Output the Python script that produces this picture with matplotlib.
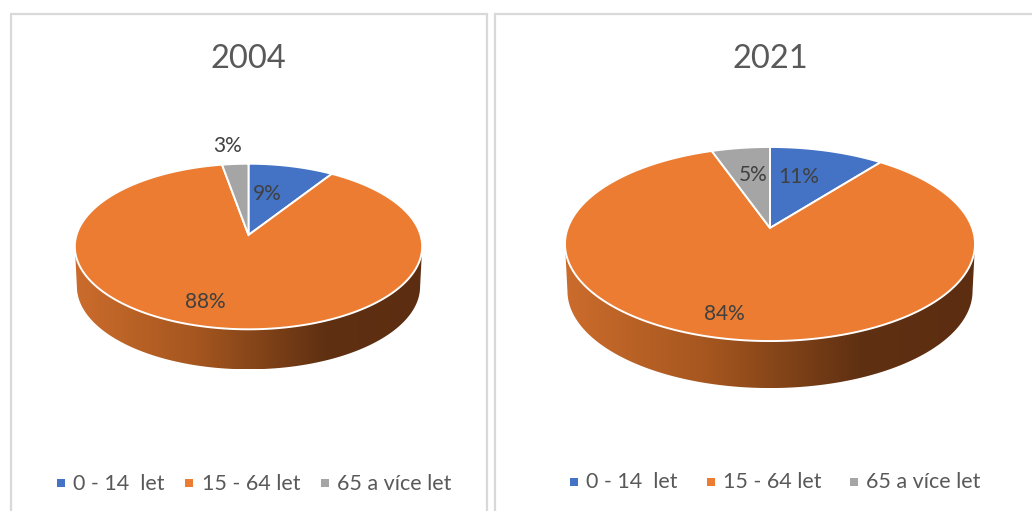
import numpy as np
import matplotlib
matplotlib.use('Agg')
import matplotlib.pyplot as plt
from matplotlib.colors import LinearSegmentedColormap
from matplotlib.patches import Polygon, Rectangle

plt.rcParams['font.family'] = ['Lato', 'DejaVu Sans']

categories = ['0 - 14  let', '15 - 64 let', '65 a více let']
colors = ['#4472C4', '#EB7C31', '#A5A5A5']
titles = ['2004', '2021']
values_2004 = [9.1, 88.1, 2.8]
values_2021 = [10.6, 84.0, 5.4]

wall_cmap = LinearSegmentedColormap.from_list(
    'wall', [(0, '#CB6C2C'), (0.35, '#A5561F'), (0.72, '#5F3012'), (1, '#5C2D10')])
TEXT = '#404040'


# tilted disc: unit circle through a simple perspective, centre lands on apex
def project(theta, geo):
    u, v = np.sin(theta), np.cos(theta)
    w = 1 + geo['k'] * v
    return geo['cx'] + geo['c'] * u / w, geo['cy'] - geo['b'] * v / w


def draw_pie(ax, values, title, geo):
    t = np.linspace(0, 2 * np.pi, 721)
    x, y = project(t, geo)

    # side wall between the rim and the same rim pushed down
    left, right = np.argmin(x), np.argmax(x)
    front = np.arange(right, left + 1)
    bx = geo['cx'] + (x[front] - geo['cx']) * 0.988
    by = y[front] + geo['depth']
    wall = Polygon(np.r_[np.c_[x[front], y[front]], np.c_[bx, by][::-1]],
                   closed=True, fc='none', ec='none', transform=ax.transData)
    ax.add_patch(wall)
    grad = np.linspace(0, 1, 256).reshape(1, -1)
    im = ax.imshow(grad, cmap=wall_cmap, aspect='auto', zorder=2,
                   extent=(x.min(), x.max(), by.max(), y.min()))
    im.set_clip_path(wall)

    # slices clockwise from 12 o'clock
    edges = np.r_[0, np.cumsum(values)] / np.sum(values) * 2 * np.pi
    for i, val in enumerate(values):
        a = np.linspace(edges[i], edges[i + 1], 200)
        px, py = project(a, geo)
        pts = np.r_[[[geo['cx'], geo['cy']]], np.c_[px, py]]
        ax.add_patch(Polygon(pts, closed=True, fc=colors[i], ec='white',
                             lw=1.4, joinstyle='miter', zorder=3))
        lx, ly = geo['labels'][i]
        ax.text(lx, ly, f'{val:.0f}%', color=TEXT, fontsize=15, ha='center',
                va='center', zorder=5)

    ax.text(geo['cx'], 59, title, color='#595959', fontsize=23.5, ha='center',
            va='center')

    # legend
    for i, cat in enumerate(categories):
        ax.scatter([geo['leg_m'][i]], [geo['leg_y']], marker='s', s=36,
                   color=colors[i], linewidths=0)
        ax.text(geo['leg_t'][i], geo['leg_y'] + 0.5, cat, color='#595959',
                fontsize=15.5, ha='left', va='center')


geo_2004 = dict(cx=248.5, cy=235, c=172, b=81.2, k=0.139, depth=40,
                labels=[(267, 194), (205, 302), (228, 146)],
                leg_m=[61, 189, 325], leg_t=[73, 202, 337], leg_y=483)
geo_2021 = dict(cx=770, cy=228, c=202.2, b=94.4, k=0.165, depth=47,
                labels=[(799, 177), (724, 314), (753, 175)],
                leg_m=[574, 711, 854], leg_t=[586, 723, 866], leg_y=482)

fig = plt.figure(figsize=(10.32, 5.11), dpi=100)
ax = fig.add_axes([0, 0, 1, 1])
ax.set_xlim(0, 1032)
ax.set_ylim(511, 0)
ax.axis('off')

# panel frames run off the bottom and right of the crop
ax.add_patch(Rectangle((11, 14), 476, 520, fc='white', ec='#D9D9D9', lw=1.6))
ax.add_patch(Rectangle((494.5, 14), 560, 520, fc='white', ec='#D9D9D9', lw=1.6))

draw_pie(ax, values_2004, titles[0], geo_2004)
draw_pie(ax, values_2021, titles[1], geo_2021)

ax.set_xlim(0, 1032)
ax.set_ylim(511, 0)
fig.savefig('out.png', dpi=100)
